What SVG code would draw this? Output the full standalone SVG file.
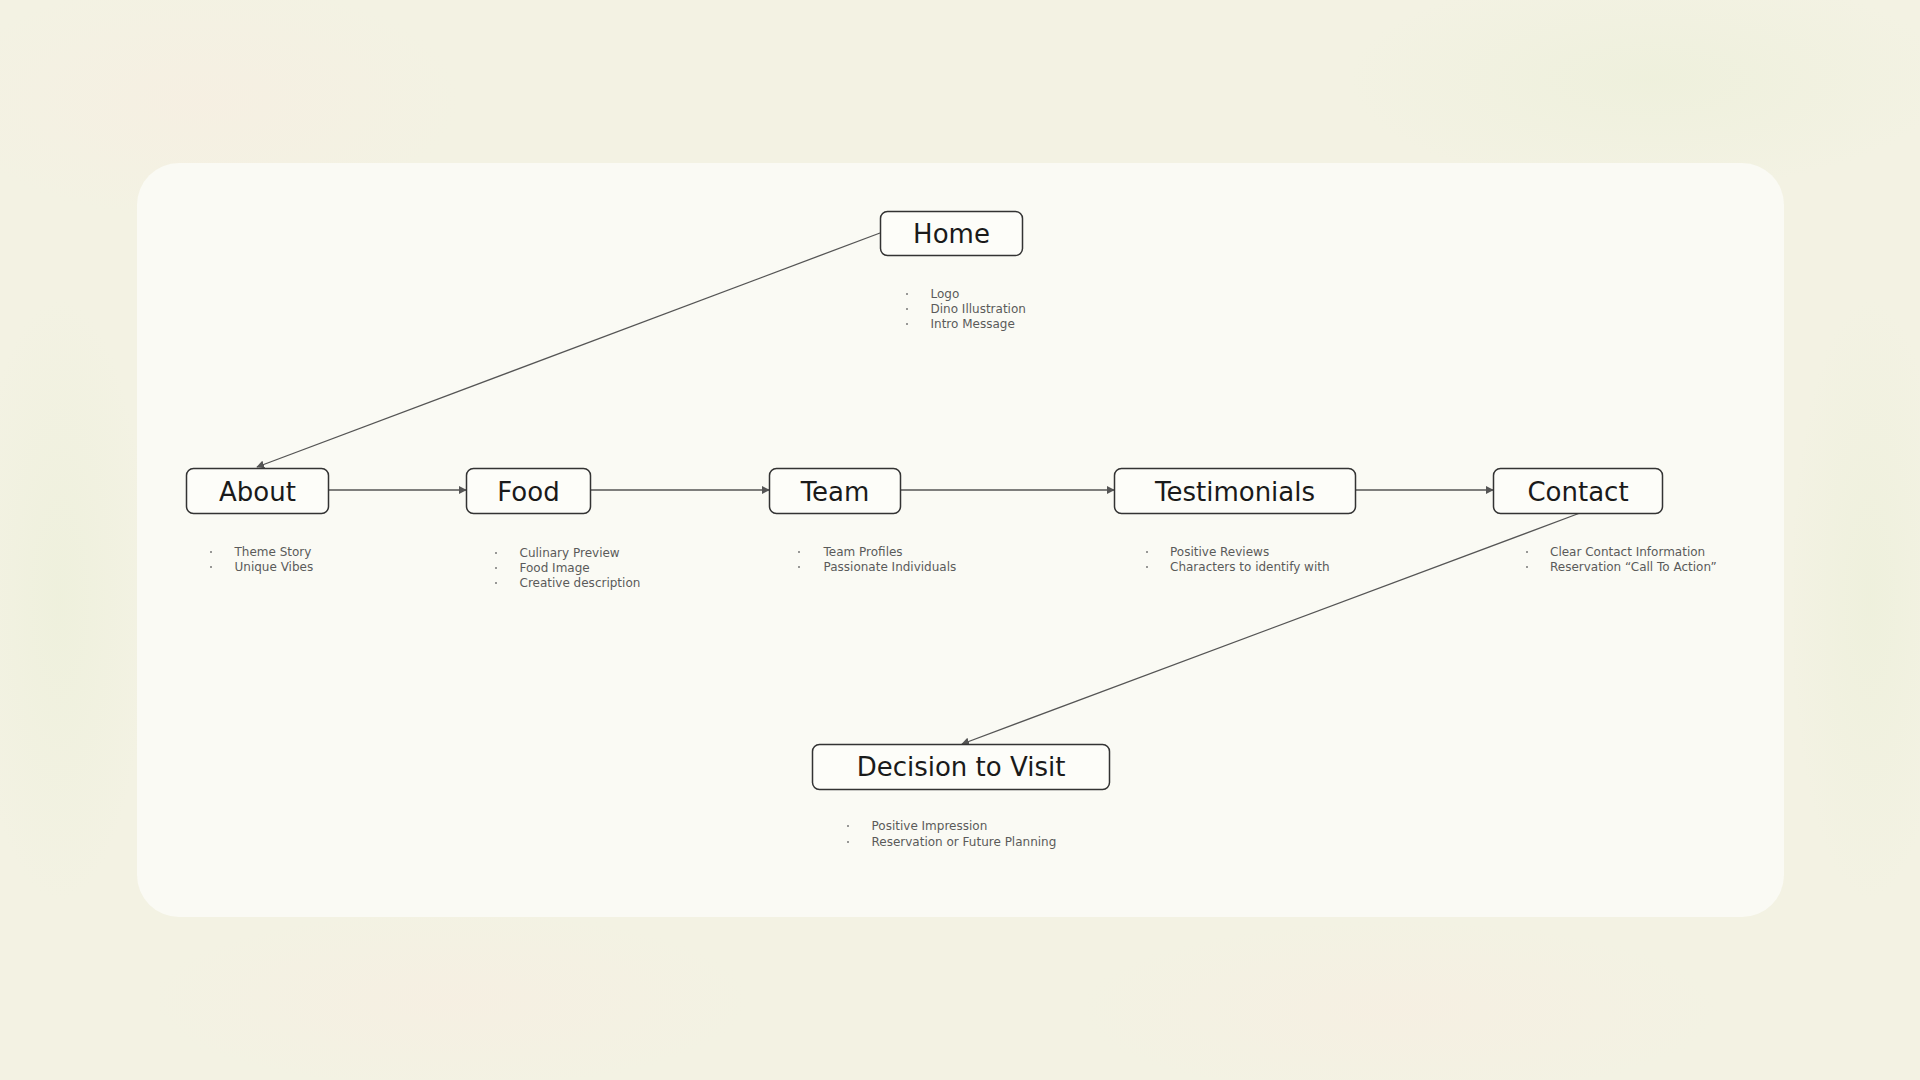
<svg xmlns="http://www.w3.org/2000/svg" width="1920" height="1080" viewBox="0 0 1920 1080">
<defs>
<radialGradient id="blobA" cx="50%" cy="50%" r="50%"><stop offset="0" stop-color="#f6efe2" stop-opacity="0.9"/><stop offset="1" stop-color="#f6efe2" stop-opacity="0"/></radialGradient>
<radialGradient id="blobB" cx="50%" cy="50%" r="50%"><stop offset="0" stop-color="#eef0dc" stop-opacity="0.9"/><stop offset="1" stop-color="#eef0dc" stop-opacity="0"/></radialGradient>
<marker id="arr" viewBox="0 0 10 10" refX="9" refY="5" markerWidth="8" markerHeight="8" markerUnits="userSpaceOnUse" orient="auto"><path d="M0,0 L10,5 L0,10 z" fill="#555"/></marker>
</defs>
<style>
.node rect{fill:#fdfdf9;stroke:#333;stroke-width:1.5}
.title{font-family:"DejaVu Sans","Liberation Sans",sans-serif;font-size:26px;fill:#1a1a1a;text-anchor:middle}
.item{font-family:"DejaVu Sans","Liberation Sans",sans-serif;font-size:12px;fill:#5a5a5a}
.dot{fill:#777}
.conn line{stroke:#555;stroke-width:1.3;fill:none;marker-end:url(#arr)}
</style>
<rect width="1920" height="1080" fill="#f3f2e3"/>
<ellipse cx="200" cy="100" rx="260" ry="120" fill="url(#blobA)"/>
<ellipse cx="1650" cy="80" rx="300" ry="110" fill="url(#blobB)"/>
<ellipse cx="450" cy="1000" rx="300" ry="90" fill="url(#blobA)"/>
<ellipse cx="1400" cy="1010" rx="320" ry="90" fill="url(#blobA)"/>
<ellipse cx="60" cy="600" rx="90" ry="300" fill="url(#blobB)"/>
<ellipse cx="1870" cy="600" rx="80" ry="300" fill="url(#blobB)"/>
<rect x="137" y="163" width="1647" height="754" rx="42" fill="#fafaf4"/>

<g id="connectors" class="conn">
<line x1="880" y1="233" x2="257" y2="467"/>
<line x1="328" y1="490" x2="466" y2="490"/>
<line x1="591" y1="490" x2="769" y2="490"/>
<line x1="901" y1="490" x2="1114" y2="490"/>
<line x1="1356" y1="490" x2="1493" y2="490"/>
<line x1="1580" y1="513" x2="962" y2="744"/>
</g>

<g id="home" class="node">
<rect x="880.5" y="211.5" width="142" height="44" rx="7"/>
<text class="title" x="951.5" y="243">Home</text>
<circle class="dot" cx="907" cy="294" r="1"/><text class="item" x="930.5" y="298">Logo</text>
<circle class="dot" cx="907" cy="309" r="1"/><text class="item" x="930.5" y="313">Dino Illustration</text>
<circle class="dot" cx="907" cy="324" r="1"/><text class="item" x="930.5" y="328">Intro Message</text>
</g>

<g id="about" class="node">
<rect x="186.5" y="468.5" width="142" height="45" rx="7"/>
<text class="title" x="257.5" y="501">About</text>
<circle class="dot" cx="211" cy="552" r="1"/><text class="item" x="234.5" y="556">Theme Story</text>
<circle class="dot" cx="211" cy="567" r="1"/><text class="item" x="234.5" y="571">Unique Vibes</text>
</g>

<g id="food" class="node">
<rect x="466.5" y="468.5" width="124" height="45" rx="7"/>
<text class="title" x="528.5" y="501">Food</text>
<circle class="dot" cx="496" cy="553" r="1"/><text class="item" x="519.5" y="557">Culinary Preview</text>
<circle class="dot" cx="496" cy="568" r="1"/><text class="item" x="519.5" y="572">Food Image</text>
<circle class="dot" cx="496" cy="583" r="1"/><text class="item" x="519.5" y="587">Creative description</text>
</g>

<g id="team" class="node">
<rect x="769.5" y="468.5" width="131" height="45" rx="7"/>
<text class="title" x="835" y="501">Team</text>
<circle class="dot" cx="799" cy="552" r="1"/><text class="item" x="823.5" y="556">Team Profiles</text>
<circle class="dot" cx="799" cy="567" r="1"/><text class="item" x="823.5" y="571">Passionate Individuals</text>
</g>

<g id="testimonials" class="node">
<rect x="1114.5" y="468.5" width="241" height="45" rx="7"/>
<text class="title" x="1235" y="501">Testimonials</text>
<circle class="dot" cx="1147" cy="552" r="1"/><text class="item" x="1170" y="556">Positive Reviews</text>
<circle class="dot" cx="1147" cy="567" r="1"/><text class="item" x="1170" y="571">Characters to identify with</text>
</g>

<g id="contact" class="node">
<rect x="1493.5" y="468.5" width="169" height="45" rx="7"/>
<text class="title" x="1578" y="501">Contact</text>
<circle class="dot" cx="1527" cy="552" r="1"/><text class="item" x="1550" y="556">Clear Contact Information</text>
<circle class="dot" cx="1527" cy="567" r="1"/><text class="item" x="1550" y="571">Reservation “Call To Action”</text>
</g>

<g id="decision" class="node">
<rect x="812.5" y="744.5" width="297" height="45" rx="7"/>
<text class="title" x="961" y="776">Decision to Visit</text>
<circle class="dot" cx="848" cy="826" r="1"/><text class="item" x="871.5" y="830">Positive Impression</text>
<circle class="dot" cx="848" cy="842" r="1"/><text class="item" x="871.5" y="846">Reservation or Future Planning</text>
</g>
</svg>
